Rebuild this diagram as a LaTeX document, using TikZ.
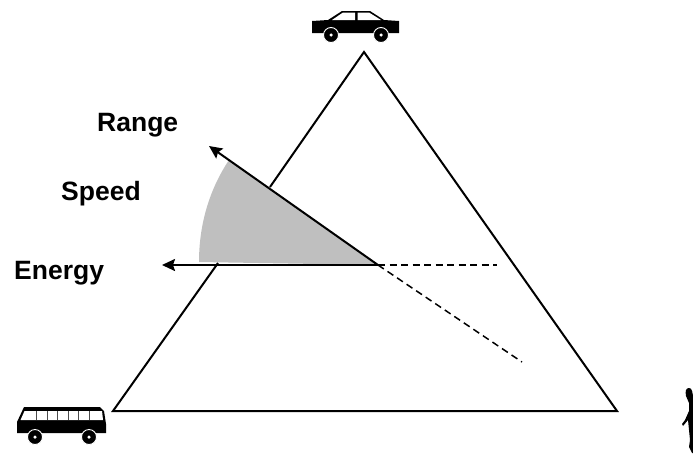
\documentclass[tikz,border=0pt]{standalone}
\usepackage{fontspec}
\setmainfont{Liberation Sans}
\usetikzlibrary{arrows.meta}
\tikzset{
 edge/.style={line width=2pt,black,line join=miter},
 arrowline/.style={line width=2pt,black,-{Stealth[length=13pt,width=12pt,inset=2pt]}},
 dashline/.style={line width=1.5pt,black,dash pattern=on 7pt off 4.5pt},
 lab/.style={font=\bfseries\fontsize{26.5}{29}\selectfont,inner sep=0pt,anchor=west},
 ink/.style={fill=black,draw=none},
 hub/.style={circle,fill=white,minimum size=3.5pt,inner sep=0pt},
 wheel/.style={circle,fill=black,draw=white,line width=0.9pt,minimum size=15pt,inner sep=0pt}
}
\begin{document}
\begin{tikzpicture}[x=1pt,y=-1pt]
\useasboundingbox (0,0) rectangle (693,453);
\coordinate (A) at (364,52);
\coordinate (L) at (113,411);
\coordinate (R) at (617,411);
\coordinate (C) at (378,265);
\coordinate (T) at (209,146);
\coordinate (W) at (162,265);
\coordinate (G1) at (270,187);
\coordinate (G2) at (218,263);
\coordinate (D1) at (497,265);
\coordinate (D2) at (522,362);
% sector
\fill[black!25] (C) -- (229,160) .. controls (209,190) and (199,225) .. (199,262) -- cycle;
% triangle
\draw[edge] (G1) -- (A) -- (R) -- (L) -- (G2);
% arrows
\draw[arrowline] (C) -- (T);
\draw[arrowline] (C) -- (W);
\draw[dashline] (C) -- (D1);
\draw[dashline] (C) -- (D2);
% labels
\node[lab] (range) at (97,125) {Range};
\node[lab] (speed) at (61,194) {Speed};
\node[lab] (energy) at (14,273) {Energy};
% car
\fill[ink] (312,21) -- (328,20) -- (342,11) -- (370,11) -- (384,20) -- (399,21) -- (399,33) -- (312,33) -- cycle;
\fill[white] (332,20) -- (343,12.5) -- (355,12.5) -- (355,20) -- cycle;
\fill[white] (357.5,12.5) -- (369,12.5) -- (381,20) -- (357.5,20) -- cycle;
\node[wheel] (cw1) at (331,35) {};
\node[wheel] (cw2) at (381,35) {};
\node[hub] at (cw1) {};
\node[hub] at (cw2) {};
% bus
\fill[ink] (24,407) -- (100,407) -- (104,411) -- (106,424) -- (106,433) -- (17,433) -- (17,422) -- cycle;
\fill[white] (24.5,411) -- (102,411) -- (103,420) -- (20.5,420) -- cycle;
\foreach \x in {36,46.5,57,67.5,78,89}
  \fill[black!70] (\x,411) rectangle (\x+1.2,420);
\node[wheel] (bw1) at (35,437) {};
\node[wheel] (bw2) at (89,437) {};
\node[hub] at (bw1) {};
\node[hub] at (bw2) {};
% person
\fill[ink] (689,388) .. controls (686,388) and (685,391) .. (686,396)
 -- (689,403) -- (689,411) -- (685,420) -- (682,424) -- (683,426) -- (688,420)
 -- (689,430) -- (690,440) -- (689,447) -- (692,453) -- (693,453) -- (693,400)
 .. controls (693,392) and (692,388) .. (689,388) -- cycle;
\end{tikzpicture}
\end{document}
